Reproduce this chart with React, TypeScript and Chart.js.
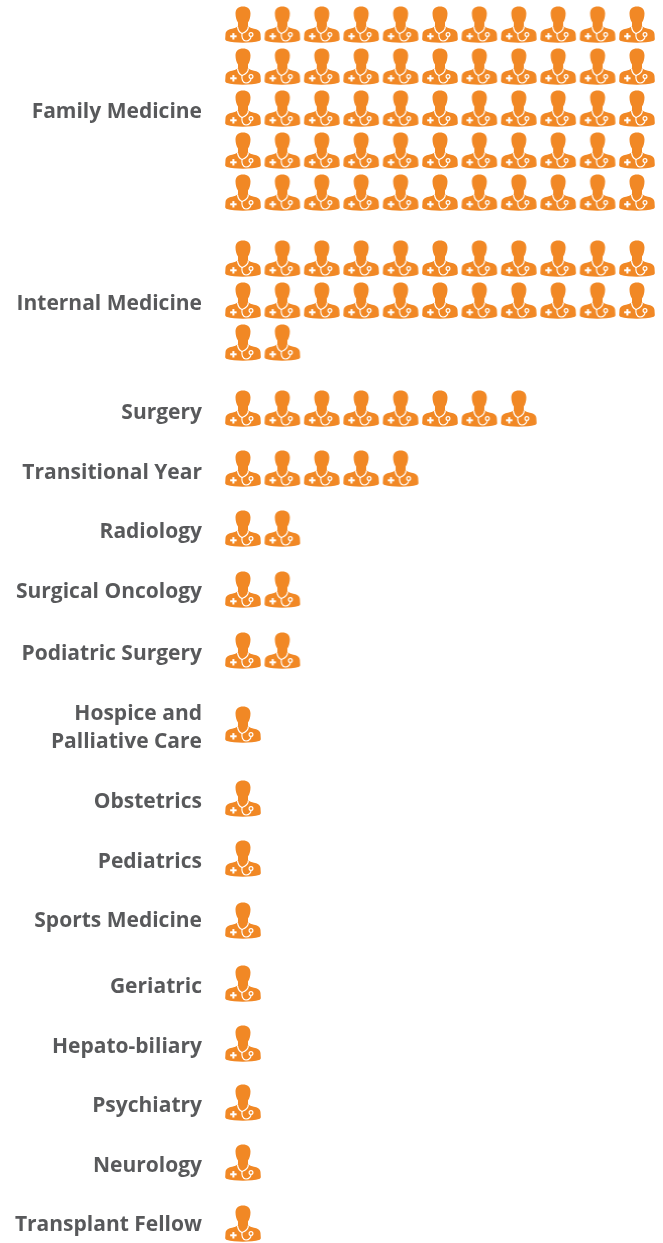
import React, { useEffect, useRef } from "react";
import { Chart, registerables } from "chart.js";

Chart.register(...registerables);

const categories: (string | string[])[] = [
  "Family Medicine", "Internal Medicine", "Surgery", "Transitional Year", "Radiology",
  "Surgical Oncology", "Podiatric Surgery", ["Hospice and", "Palliative Care"], "Obstetrics",
  "Pediatrics", "Sports Medicine", "Geriatric", "Hepato-biliary", "Psychiatry", "Neurology", "Transplant Fellow",
];
const counts = [55, 24, 8, 5, 2, 2, 2, 1, 1, 1, 1, 1, 1, 1, 1, 1];
// vertical axis position of the first icon row of each category
const firstRow = [25, 259, 409, 469, 529, 590, 651, 725, 799, 859, 921, 984, 1044, 1103, 1163, 1224];
// vertical axis position of each category label
const labelAt = [112, 304, 413, 473, 532, 592, 654, 728, 802, 862, 921, 987, 1047, 1106, 1166, 1225];
const perRow = 11;
const rowGap = 42;

function makeIcon(): HTMLCanvasElement {
  const c = document.createElement("canvas");
  c.width = 38;
  c.height = 38;
  const g = c.getContext("2d")!;
  g.fillStyle = "#f18825";
  // head and neck
  g.beginPath();
  g.moveTo(11.5, 7.5);
  g.bezierCurveTo(11.5, 3, 14.5, 0.5, 19, 0.5);
  g.bezierCurveTo(23.5, 0.5, 26.5, 3, 26.5, 7.5);
  g.bezierCurveTo(26.5, 11, 25.5, 14.5, 24, 16.5);
  g.lineTo(24, 24);
  g.lineTo(14, 24);
  g.lineTo(14, 16.5);
  g.bezierCurveTo(12.5, 14.5, 11.5, 11, 11.5, 7.5);
  g.closePath();
  g.fill();
  // shoulders
  g.beginPath();
  g.moveTo(1.5, 28);
  g.bezierCurveTo(1.8, 24.5, 5, 23.5, 8, 22.8);
  g.bezierCurveTo(10.5, 22.2, 12.5, 21.5, 14, 20);
  g.lineTo(24, 20);
  g.bezierCurveTo(25.5, 21.5, 27.5, 22.2, 30, 22.8);
  g.bezierCurveTo(33, 23.5, 36.2, 24.5, 36.5, 28);
  g.lineTo(36.8, 33);
  g.bezierCurveTo(36.8, 34, 36, 34.6, 35, 35);
  g.bezierCurveTo(28, 37.2, 10, 37.2, 3, 35);
  g.bezierCurveTo(2, 34.6, 1.2, 34, 1.2, 33);
  g.closePath();
  g.fill();
  // stethoscope
  g.strokeStyle = "#fff";
  g.lineWidth = 1.2;
  g.lineCap = "round";
  g.beginPath();
  g.moveTo(13.5, 20.8);
  g.bezierCurveTo(14, 24, 15.5, 26.5, 18, 27.5);
  g.bezierCurveTo(17.5, 31, 18.5, 35, 22, 35);
  g.bezierCurveTo(25.5, 35, 27, 32, 27, 30.5);
  g.stroke();
  g.beginPath();
  g.moveTo(24.3, 20.8);
  g.bezierCurveTo(24.3, 23, 22.5, 26, 18, 27.5);
  g.stroke();
  g.beginPath();
  g.arc(27, 28.5, 1.9, 0, Math.PI * 2);
  g.stroke();
  // plus sign
  g.fillStyle = "#fff";
  g.fillRect(6.2, 29.3, 6.4, 2);
  g.fillRect(8.4, 27.1, 2, 6.4);
  return c;
}

export default function App() {
  const ref = useRef<HTMLCanvasElement>(null);
  useEffect(() => {
    document.body.style.margin = "0";
    const points: { x: number; y: number }[] = [];
    counts.forEach((n, i) => {
      for (let k = 0; k < n; k++) {
        points.push({ x: k % perRow, y: firstRow[i] + Math.floor(k / perRow) * rowGap });
      }
    });
    const chart = new Chart(ref.current!, {
      type: "scatter",
      data: {
        datasets: [{
          data: points,
          pointStyle: makeIcon() as any,
          pointRadius: 19,
          pointHoverRadius: 19,
          showLine: false,
        }],
      },
      options: {
        animation: false,
        responsive: false,
        clip: false,
        layout: { padding: 0, autoPadding: false },
        plugins: { legend: { display: false }, tooltip: { enabled: false } },
        scales: {
          x: {
            type: "linear",
            min: -0.76,
            max: 10.66,
            display: false,
          },
          y: {
            type: "linear",
            min: 0,
            max: 1243,
            reverse: true,
            border: { display: false },
            grid: { display: false, drawTicks: false },
            afterFit: (s: any) => { s.width = 213; s.paddingTop = 0; s.paddingBottom = 0; },
            afterBuildTicks: (s: any) => { s.ticks = labelAt.map((v) => ({ value: v })); },
            ticks: {
              autoSkip: false,
              padding: 11,
              color: "#58595b",
              font: { family: "'Open Sans'", weight: 700, size: 21, lineHeight: 1.33 },
              callback: (_v: any, i: number) => categories[i],
            },
          },
        },
      },
    });
    return () => chart.destroy();
  }, []);
  return <canvas ref={ref} width={663} height={1243} style={{ display: "block" }} />;
}
